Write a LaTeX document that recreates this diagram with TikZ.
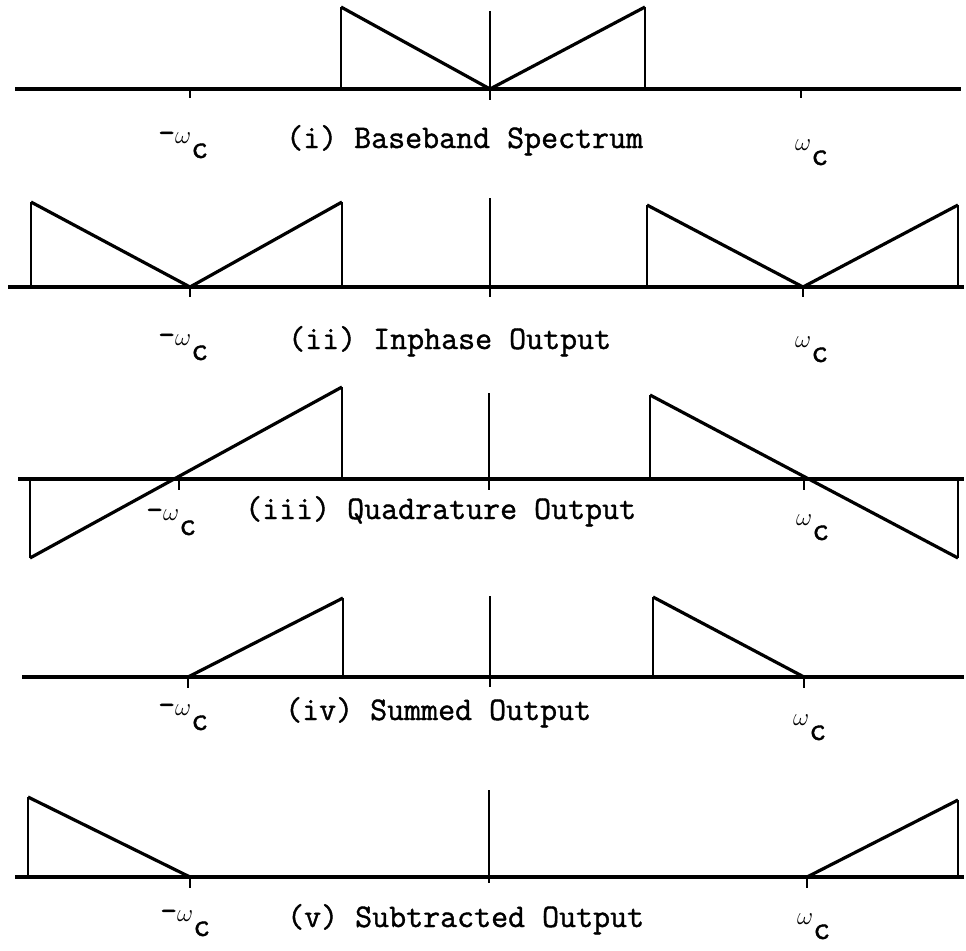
\documentclass[tikz,border=0pt]{standalone}
\usepackage{fontspec}
\newfontfamily\twfont[FakeBold=1.2]{Latin Modern Mono}
% omega with a lowered c, as typed in the captions
\newcommand{\omc}{{\fontsize{25}{25}\selectfont$\omega$}\raisebox{-15pt}{c}}
\begin{document}
\begin{tikzpicture}[x=1pt,y=-1pt,
  axisline/.style={line width=3.6pt},
  edgeline/.style={line width=2.2pt},
  slopeline/.style={line width=3.2pt, line join=round},
  tickline/.style={line width=2pt},
  lbl/.style={font=\twfont\fontsize{33}{33}\selectfont, inner sep=0pt, anchor=base west},
  wlbl/.style={font=\twfont\fontsize{33}{33}\selectfont, inner sep=0pt, anchor=base west}]
\useasboundingbox (0,0) rectangle (966,950);

% ---------- (i) baseband spectrum ----------
\draw[axisline] (15,89) -- (961,89);
\draw[edgeline] (341,89) -- (341,7);
\draw[edgeline] (645,7) -- (645,89);
\draw[slopeline] (341,7) -- (490,89) -- (645,7);
\draw[edgeline] (490,11) -- (490,100);
\draw[tickline] (190,89) -- (190,98);
\draw[tickline] (801,89) -- (801,98);
\node[wlbl] (wl1) at (158,143) {-\omc};
\node[lbl]  (t1)  at (286,148) {(i) Baseband Spectrum};
\node[wlbl] (wr1) at (795,150) {\omc};

% ---------- (ii) inphase output ----------
\draw[axisline] (8,287) -- (964,287);
\draw[edgeline] (31,287) -- (31,202);
\draw[slopeline] (31,202) -- (190,287) -- (342,202);
\draw[edgeline] (342,202) -- (342,287);
\draw[edgeline] (647,287) -- (647,205);
\draw[slopeline] (647,205) -- (803,287) -- (958,205);
\draw[edgeline] (958,205) -- (958,287);
\draw[edgeline] (490,198) -- (490,297);
\draw[tickline] (190,287) -- (190,297);
\draw[tickline] (803,287) -- (803,297);
\node[wlbl] (wl2) at (158,345) {-\omc};
\node[lbl]  (t2)  at (288,349) {(ii) Inphase Output};
\node[wlbl] (wr2) at (795,347) {\omc};

% ---------- (iii) quadrature output ----------
\draw[axisline] (18,479) -- (964,479);
\draw[edgeline] (30,479) -- (30,558);
\draw[slopeline] (30,558) -- (342,387);
\draw[edgeline] (342,387) -- (342,479);
\draw[edgeline] (650,479) -- (650,395);
\draw[slopeline] (650,395) -- (958,558);
\draw[edgeline] (958,558) -- (958,479);
\draw[edgeline] (489,393) -- (489,490);
\draw[tickline] (179,479) -- (179,490);
\draw[tickline] (804,479) -- (804,490);
\node[wlbl] (wl3) at (146,520) {-\omc};
\node[lbl]  (t3)  at (245,519) {(iii) Quadrature Output};
\node[wlbl] (wr3) at (796,525) {\omc};

% ---------- (iv) summed output ----------
\draw[axisline] (22,677) -- (964,677);
\draw[slopeline] (188,677) -- (343,598);
\draw[edgeline] (343,598) -- (343,677);
\draw[edgeline] (653,677) -- (653,597);
\draw[slopeline] (653,597) -- (804,677);
\draw[edgeline] (490,596) -- (490,687);
\draw[tickline] (188,677) -- (188,688);
\draw[tickline] (804,677) -- (804,688);
\node[wlbl] (wl4) at (158,715) {-\omc};
\node[lbl]  (t4)  at (285,720) {(iv) Summed Output};
\node[wlbl] (wr4) at (793,725) {\omc};

% ---------- (v) subtracted output ----------
\draw[axisline] (15,877) -- (964,877);
\draw[edgeline] (28,877) -- (28,797);
\draw[slopeline] (28,797) -- (190,877);
\draw[slopeline] (807,877) -- (958,800);
\draw[edgeline] (958,800) -- (958,877);
\draw[edgeline] (489,790) -- (489,883);
\draw[tickline] (190,877) -- (190,888);
\draw[tickline] (807,877) -- (807,888);
\node[wlbl] (wl5) at (160,921) {-\omc};
\node[lbl]  (t5)  at (287,927) {(v) Subtracted Output};
\node[wlbl] (wr5) at (797,924) {\omc};
\end{tikzpicture}
\end{document}
